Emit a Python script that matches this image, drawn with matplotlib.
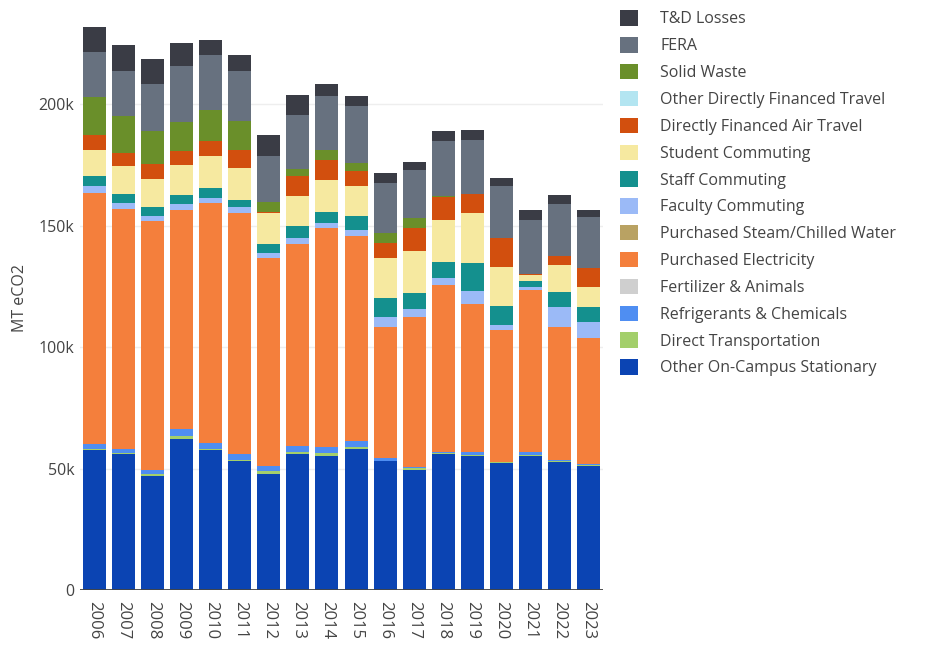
import numpy as np
import matplotlib
matplotlib.use("Agg")
import matplotlib.pyplot as plt
from matplotlib.patches import Patch
from matplotlib.ticker import FuncFormatter

plt.rcParams["font.family"] = ["Open Sans", "DejaVu Sans"]

years = [str(y) for y in range(2006, 2024)]

# values in thousand MT eCO2
stationary = [57.6, 56.0, 47.0, 62.1, 57.6, 53.1, 47.7, 55.8, 55.3, 58.2,
              53.1, 49.5, 55.8, 55.3, 52.3, 55.3, 52.8, 51.2]
direct_transport = [0.4, 0.3, 0.6, 1.2, 0.4, 0.4, 1.2, 0.9, 1.1, 0.5,
                    0.2, 0.6, 0.8, 0.4, 0.3, 0.3, 0.3, 0.3]
refrigerants = [1.9, 1.9, 2.0, 2.8, 2.4, 2.4, 2.3, 2.5, 2.4, 2.5,
                1.0, 0.4, 0.2, 1.3, 0.2, 1.3, 0.3, 0.3]
fertilizer = [0.0] * 18
electricity = [103.7, 98.6, 102.1, 90.5, 99.0, 99.4, 85.6, 83.4, 90.1, 84.7,
               53.8, 62.0, 68.7, 60.6, 54.3, 66.8, 55.0, 51.9]
steam = [0.0] * 18
faculty = [2.6, 2.5, 2.2, 2.1, 2.1, 2.2, 2.1, 2.1, 2.3, 2.3,
           4.1, 3.2, 2.8, 5.5, 1.8, 1.1, 8.0, 6.8]
staff = [4.1, 3.6, 3.6, 4.1, 4.1, 3.0, 3.6, 5.3, 4.5, 5.9,
         8.1, 6.5, 6.8, 11.6, 8.1, 2.4, 6.4, 6.2]
student = [11.0, 11.6, 11.6, 12.1, 13.0, 13.3, 12.8, 12.1, 13.0, 12.2,
           16.3, 17.5, 17.2, 20.5, 15.8, 2.4, 11.0, 8.2]
air_travel = [5.9, 5.6, 6.2, 5.8, 6.2, 7.3, 0.3, 8.2, 8.5, 6.2,
              6.4, 9.3, 9.6, 8.0, 11.9, 0.3, 3.7, 7.6]
other_travel = [0.0] * 18
solid_waste = [15.8, 14.9, 13.6, 11.8, 13.0, 11.9, 4.1, 2.9, 3.8, 3.2,
               3.8, 4.1, 0.3, 0.0, 0.0, 0.0, 0.0, 0.0]
fera = [18.3, 18.6, 19.2, 23.2, 22.3, 20.7, 18.9, 22.5, 22.3, 23.7,
        20.6, 19.6, 22.6, 22.2, 21.7, 22.3, 21.3, 21.0]
td_losses = [10.5, 10.6, 10.3, 9.3, 6.5, 6.5, 8.8, 8.2, 5.1, 4.0,
             4.1, 3.5, 4.1, 3.8, 3.2, 4.1, 3.8, 3.0]

# bottom to top
series = [
    ("Other On-Campus Stationary", stationary, "#0b44b3"),
    ("Direct Transportation", direct_transport, "#a3cf6b"),
    ("Refrigerants & Chemicals", refrigerants, "#4f8ef2"),
    ("Fertilizer & Animals", fertilizer, "#cfcfcf"),
    ("Purchased Electricity", electricity, "#f47f3c"),
    ("Purchased Steam/Chilled Water", steam, "#b9a263"),
    ("Faculty Commuting", faculty, "#9bbaf7"),
    ("Staff Commuting", staff, "#14908e"),
    ("Student Commuting", student, "#f6e9a0"),
    ("Directly Financed Air Travel", air_travel, "#d24f0e"),
    ("Other Directly Financed Travel", other_travel, "#b3e5f1"),
    ("Solid Waste", solid_waste, "#6a8f2a"),
    ("FERA", fera, "#67717f"),
    ("T&D Losses", td_losses, "#3a3c45"),
]

fig = plt.figure(figsize=(9.33, 6.47), dpi=100)
ax = fig.add_axes([80 / 933, 57 / 647, 523 / 933, 583 / 647])

x = np.arange(len(years))
bottom = np.zeros(len(years))
handles = []
for name, vals, color in series:
    v = np.array(vals) * 1000
    ax.bar(x, v, bottom=bottom, width=0.79, color=color, linewidth=0, zorder=3)
    bottom += v
    handles.append(Patch(facecolor=color, label=name))

ax.set_xlim(-0.5, len(years) - 0.5)
ax.set_ylim(0, 240000)
ax.set_yticks([0, 50000, 100000, 150000, 200000])
ax.yaxis.set_major_formatter(
    FuncFormatter(lambda v, _: "0" if v == 0 else f"{int(v / 1000)}k"))
ax.grid(axis="y", color="#eeeeee", linewidth=1, zorder=0)
ax.axhline(0, color="#444444", linewidth=1.3, zorder=4)

ax.set_xticks(x)
ax.set_xticklabels(years, rotation=-90)
ax.tick_params(axis="x", length=0, pad=8, labelsize=12, colors="#444444")
ax.tick_params(axis="y", length=0, pad=4, labelsize=11.5, colors="#444444")
for s in ax.spines.values():
    s.set_visible(False)

ax.set_ylabel("MT eCO2", fontsize=11.5, color="#444444", labelpad=8)

leg = fig.legend(handles=handles[::-1], loc="upper left",
                 bbox_to_anchor=(614 / 933, 1 - 4 / 647),
                 frameon=False, fontsize=11.5, labelcolor="#444444",
                 handlelength=1.1, handleheight=1.1, handletextpad=1.4,
                 labelspacing=0.61, borderaxespad=0)

fig.savefig("out.png", dpi=100)
